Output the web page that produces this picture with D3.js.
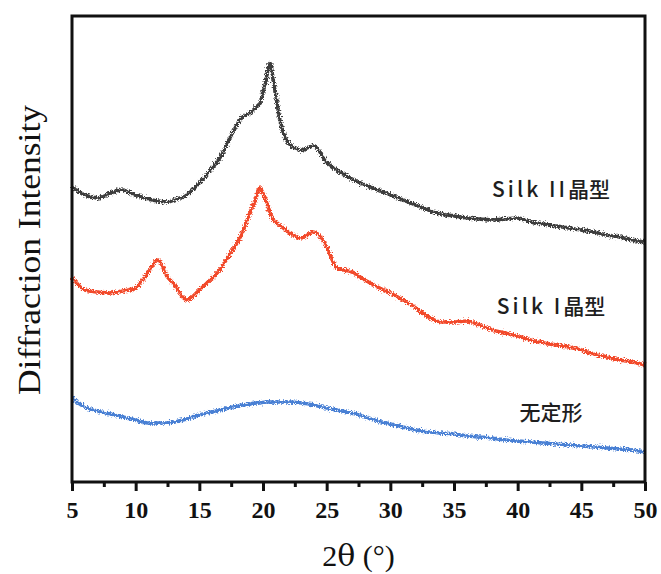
<!DOCTYPE html>
<html>
<head>
<meta charset="utf-8">
<script src="https://cdn.jsdelivr.net/npm/d3@7/dist/d3.min.js"></script>
<style>
  body { margin: 0; background: #fff; }
</style>
</head>
<body>
<svg id="chart" width="661" height="574"></svg>
<script>
// 2theta positions (deg)
const twoTheta = [5, 6, 7, 8, 9, 10, 11, 11.75, 12.5, 13, 14, 15, 16, 16.6, 17, 17.6, 18, 18.4, 19, 19.4,
  19.75, 20.2, 20.55, 20.8, 21, 21.3, 22, 23, 24, 25, 25.8, 27, 28, 29, 30, 31, 32, 33, 34, 35,
  36, 37, 38, 39, 40, 41, 42, 43, 44, 45, 46, 47, 48, 49, 50];

// intensities (a.u., stacked offsets as drawn)
const silk2 = [295, 287, 284, 289, 292, 287, 283, 281, 280, 282, 287, 299, 314, 324, 334, 349, 358, 365, 369, 374,
  379, 400, 419, 402, 387, 364, 339, 332, 336, 320, 312, 303, 297, 292, 287, 282, 277, 272, 268, 266,
  264, 263, 262, 263, 264, 260, 258, 256, 254, 252, 250, 247, 245, 242, 240];
const silk1 = [205, 192, 190, 189, 191, 194, 210, 222, 205, 198, 182, 192, 204, 212, 220, 232, 240, 250, 270, 282,
  294, 282, 270, 262, 260, 257, 250, 244, 250, 235, 214, 210, 202, 195, 189, 182, 174, 165, 160, 160,
  161, 157, 152, 149, 146, 142, 139, 137, 135, 132, 128, 125, 122, 120, 117];
const amorphous = [84, 75, 71, 68, 65, 62, 59, 59, 59, 60, 63, 67, 70, 72, 73, 75, 76, 77, 78, 79,
  79, 80, 80, 80, 80, 80, 80, 79, 77, 74, 72, 69, 65, 61, 58, 55, 52, 50, 49, 48,
  46, 45, 44, 42, 41, 40, 39, 38, 37, 36, 35, 34, 33, 32, 30];

const seriesNames = ['silk2', 'silk1', 'amorphous'];
const seriesColors = ['#3c3c3c', '#f24a2c', '#4a80d4'];
const seriesLabels = [['Silk II', '晶型'], ['Silk I', '晶型'], ['', '无定形']];
const labelAt = [[551, 197], [551, 314], [551, 420]];
const xTicks = [5, 10, 15, 20, 25, 30, 35, 40, 45, 50];
const xTitleParts = ['2', '\u03B8', ' (\u00B0)'];

const margin = { top: 16, right: 16, bottom: 92, left: 72 };
const width = 661 - margin.left - margin.right;
const height = 574 - margin.top - margin.bottom;
const serif = '"Liberation Serif", serif';
const greekSerif = '"DejaVu Serif", "Liberation Serif", serif';

const svg = d3.select('#chart');

const defs = svg.append('defs');
const noise = defs.append('filter')
  .attr('id', 'rough')
  .attr('x', '-5%').attr('y', '-20%')
  .attr('width', '110%').attr('height', '140%');
noise.append('feTurbulence')
  .attr('type', 'fractalNoise')
  .attr('baseFrequency', '0.7')
  .attr('numOctaves', 2)
  .attr('seed', 3)
  .attr('result', 'turb');
noise.append('feDisplacementMap')
  .attr('in', 'SourceGraphic')
  .attr('in2', 'turb')
  .attr('scale', 6)
  .attr('xChannelSelector', 'R')
  .attr('yChannelSelector', 'G');

const g = svg.append('g')
  .attr('transform', `translate(${margin.left},${margin.top})`);

const xScale = d3.scaleLinear().domain([5, 50]).range([0, width]);
const yScale = d3.scaleLinear().domain([0, 466]).range([height, 0]);

const data = [silk2, silk1, amorphous];

const line = d3.line()
  .x((d, i) => xScale(twoTheta[i]))
  .y((d) => yScale(d))
  .curve(d3.curveMonotoneX);

g.append('g')
  .attr('filter', 'url(#rough)')
  .selectAll('path')
  .data(data)
  .enter()
  .append('path')
  .attr('fill', 'none')
  .attr('stroke', (d, i) => seriesColors[i])
  .attr('stroke-width', 3.6)
  .attr('stroke-linejoin', 'round')
  .attr('d', line);

// frame
g.append('rect')
  .attr('x', 0).attr('y', 0)
  .attr('width', width).attr('height', height)
  .attr('fill', 'none')
  .attr('stroke', '#111')
  .attr('stroke-width', 3);

// x axis
const xAxis = g.append('g')
  .attr('transform', `translate(0,${height})`)
  .call(d3.axisBottom(xScale).tickValues(xTicks).tickSize(9).tickPadding(10));
xAxis.select('.domain').remove();
xAxis.selectAll('line').attr('stroke', '#111').attr('stroke-width', 3);
xAxis.selectAll('text')
  .attr('fill', '#111')
  .style('font-family', serif)
  .style('font-weight', 'bold')
  .style('font-size', '24px');

const minor = g.append('g')
  .attr('transform', `translate(0,${height})`)
  .call(d3.axisBottom(xScale).tickValues(xTicks.slice(0, -1).map((t) => t + 2.5)).tickSize(5).tickFormat(''));
minor.select('.domain').remove();
minor.selectAll('line').attr('stroke', '#111').attr('stroke-width', 3);

// axis titles
const xTitle = svg.append('text')
  .attr('x', margin.left + width / 2)
  .attr('y', 566)
  .attr('text-anchor', 'middle')
  .attr('font-size', 30)
  .attr('fill', '#111');
xTitle.selectAll('tspan')
  .data(xTitleParts)
  .enter()
  .append('tspan')
  .attr('font-family', (d, i) => (i === 1 ? greekSerif : serif))
  .text((d) => d);

svg.append('text')
  .attr('transform', 'translate(40,250) rotate(-90)')
  .attr('text-anchor', 'middle')
  .attr('font-family', serif)
  .attr('font-size', 32)
  .attr('textLength', 290)
  .attr('lengthAdjust', 'spacingAndGlyphs')
  .attr('fill', '#111')
  .text('Diffraction Intensity');

// curve labels
const labels = svg.selectAll('text.curve-label')
  .data(seriesNames)
  .enter()
  .append('text')
  .attr('class', 'curve-label')
  .attr('x', (d, i) => labelAt[i][0])
  .attr('y', (d, i) => labelAt[i][1])
  .attr('text-anchor', 'middle')
  .attr('fill', '#1e1e1e')
  .style('font-family', '"Noto Sans CJK SC", sans-serif')
  .style('font-weight', '500')
  .style('font-size', '21px');

labels.append('tspan')
  .style('letter-spacing', '3px')
  .text((d, i) => seriesLabels[i][0]);
labels.append('tspan')
  .text((d, i) => seriesLabels[i][1]);
</script>
</body>
</html>
